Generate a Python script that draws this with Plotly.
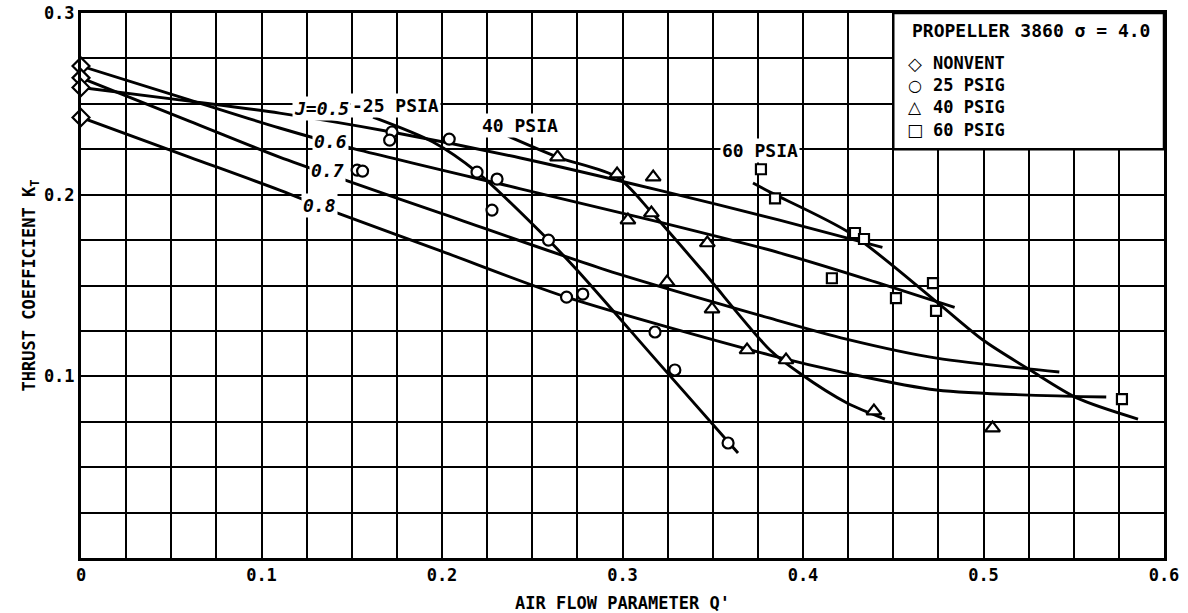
import plotly.graph_objects as go

# ---------------- data ----------------
nonvent_q = [0.0, 0.0, 0.0, 0.0]
nonvent_k = [0.2708, 0.2643, 0.2590, 0.2425]

psig25_q = [0.1723, 0.1710, 0.1530, 0.1560, 0.2040, 0.2194, 0.2305, 0.2277,
            0.2590, 0.2690, 0.2780, 0.3180, 0.3290, 0.3585]
psig25_k = [0.2345, 0.2300, 0.2135, 0.2130, 0.2306, 0.2124, 0.2086, 0.1915,
            0.1750, 0.1436, 0.1453, 0.1244, 0.1035, 0.0633]

psig40_q = [0.2640, 0.2970, 0.3170, 0.3160, 0.3030, 0.3470, 0.3247, 0.3496,
            0.3690, 0.3906, 0.4393, 0.5050]
psig40_k = [0.2207, 0.2113, 0.2097, 0.1899, 0.1860, 0.1734, 0.1519, 0.1370,
            0.1145, 0.1090, 0.0809, 0.0715]

psig60_q = [0.3767, 0.3845, 0.4288, 0.4338, 0.4160, 0.4720, 0.4515, 0.4737, 0.5767]
psig60_k = [0.2140, 0.1980, 0.1789, 0.1756, 0.1540, 0.1513, 0.1430, 0.1360, 0.0875]

# faired curves: constant advance ratio J
j05_q = [0.0, 0.06, 0.11, 0.172, 0.2435, 0.32, 0.387, 0.444]
j05_k = [0.259, 0.2515, 0.2449, 0.2345, 0.2202, 0.2025, 0.186, 0.171]

j06_q = [0.0, 0.06, 0.11, 0.15, 0.2435, 0.32, 0.387, 0.44, 0.484]
j06_k = [0.2708, 0.2522, 0.2367, 0.2256, 0.2032, 0.185, 0.168, 0.152, 0.138]

j07_q = [0.0, 0.06, 0.11, 0.146, 0.2, 0.291, 0.3817, 0.424, 0.474, 0.542]
j07_k = [0.2643, 0.2405, 0.2207, 0.2081, 0.1896, 0.1585, 0.132, 0.1205, 0.110, 0.1024]

j08_q = [0.0, 0.06, 0.11, 0.1407, 0.2, 0.269, 0.3817, 0.424, 0.474, 0.568]
j08_k = [0.2425, 0.2207, 0.2025, 0.1904, 0.1688, 0.1436, 0.1117, 0.1018, 0.0925, 0.0886]

# faired curves: constant tank pressure
psia25_q = [0.1618, 0.195, 0.2194, 0.259, 0.2748, 0.32, 0.364]
psia25_k = [0.2427, 0.229, 0.2124, 0.175, 0.1585, 0.1074, 0.0578]

psia40_q = [0.2366, 0.264, 0.297, 0.3163, 0.344, 0.3817, 0.398, 0.4244, 0.4454]
psia40_k = [0.2322, 0.2207, 0.2097, 0.190, 0.1585, 0.1145, 0.1018, 0.0853, 0.0765]

psia60_q = [0.3723, 0.3817, 0.426, 0.474, 0.4997, 0.5258, 0.552, 0.5856]
psia60_k = [0.2064, 0.2014, 0.1789, 0.141, 0.12, 0.1035, 0.088, 0.0765]

x_ticks = [0, 0.1, 0.2, 0.3, 0.4, 0.5, 0.6]
x_ticktext = ["0", "0.1", "0.2", "0.3", "0.4", "0.5", "0.6"]
y_ticks = [0.1, 0.2, 0.3]
y_ticktext = ["0.1", "0.2", "0.3"]

legend_names = ["NONVENT", "25 PSIG", "40 PSIG", "60 PSIG"]
legend_glyphs = ["◇", "○", "△", "□"]
legend_title = "PROPELLER 3860 σ = 4.0"

# ---------------- figure ----------------
FONT = "DejaVu Sans Mono"
INK = "black"

fig = go.Figure()

curves = [(j05_q, j05_k), (j06_q, j06_k), (j07_q, j07_k), (j08_q, j08_k),
          (psia25_q, psia25_k), (psia40_q, psia40_k), (psia60_q, psia60_k)]
for q, k in curves:
    fig.add_trace(go.Scatter(
        x=q, y=k, mode="lines",
        line=dict(color=INK, width=2.9, shape="spline", smoothing=0.8),
        showlegend=False, hoverinfo="skip"))

series = [
    (legend_names[0], nonvent_q, nonvent_k, "diamond", 13),
    (legend_names[1], psig25_q, psig25_k, "circle", 11),
    (legend_names[2], psig40_q, psig40_k, "triangle-up", 13),
    (legend_names[3], psig60_q, psig60_k, "square", 10),
]
for name, q, k, sym, size in series:
    fig.add_trace(go.Scatter(
        x=q, y=k, mode="markers", name=name, cliponaxis=False, showlegend=False,
        marker=dict(symbol=sym, size=size, color="white",
                    line=dict(color=INK, width=2.2))))

# key box (white panel covering the grid)
fig.add_shape(type="rect", xref="x", yref="y", x0=0.45, x1=0.6, y0=0.225, y1=0.3,
              fillcolor="white", line=dict(color=INK, width=2.5), layer="between")

TXT = dict(family=FONT, size=18, color=INK, weight="bold")

fig.add_annotation(xref="x", yref="y", x=0.4593, y=0.2906, xanchor="left", yanchor="middle",
                   text=legend_title, showarrow=False, font=TXT)

key_rows = [0.2724, 0.2603, 0.2482, 0.2356]
glyph_sizes = [18, 16, 17, 17]
for glyph, gsize, name, yk in zip(legend_glyphs, glyph_sizes, legend_names, key_rows):
    fig.add_annotation(xref="x", yref="y", x=0.4622, y=yk, text=glyph, showarrow=False,
                       xanchor="center", yanchor="middle",
                       font=dict(family="DejaVu Sans", size=gsize, color=INK, weight="bold"))
    fig.add_annotation(xref="x", yref="y", x=0.4710, y=yk, text=name, showarrow=False,
                       xanchor="left", yanchor="middle",
                       font=dict(family=FONT, size=17, color=INK, weight="bold"))

labels = [
    ("<i>J=0.5</i>", 0.1335, 0.2477),
    ("<i>0.6</i>", 0.1385, 0.2290),
    ("<i>0.7</i>", 0.1368, 0.2135),
    ("<i>0.8</i>", 0.1319, 0.1943),
    ("-25 PSIA", 0.1745, 0.2493),
    ("40 PSIA", 0.2432, 0.2383),
    ("60 PSIA", 0.3762, 0.2245),
]
for txt, x, y in labels:
    fig.add_annotation(xref="x", yref="y", x=x, y=y, text=txt, showarrow=False,
                       font=TXT, bgcolor="white", borderpad=1)

axis_common = dict(
    showgrid=True, gridcolor=INK, gridwidth=2,
    showline=True, linecolor=INK, linewidth=3, mirror=True,
    zeroline=False, ticks="", automargin=False,
    tickfont=dict(family=FONT, size=17, color=INK, weight="bold"),
)

fig.update_layout(
    width=1188, height=613,
    margin=dict(l=81, r=24, t=13, b=55),
    paper_bgcolor="white", plot_bgcolor="white",
    font=dict(family=FONT, color=INK),
    showlegend=False,
    xaxis=dict(range=[0, 0.6], tickmode="array", tickvals=x_ticks, ticktext=x_ticktext,
               minor=dict(tickmode="linear", tick0=0, dtick=0.025, showgrid=True,
                          gridcolor=INK, gridwidth=2),
               title=dict(text="AIR FLOW PARAMETER Q'",
                          font=dict(family=FONT, size=17, color=INK, weight="bold"),
                          standoff=14),
               **axis_common),
    yaxis=dict(range=[0, 0.3], tickmode="array", tickvals=y_ticks, ticktext=y_ticktext,
               minor=dict(tickmode="linear", tick0=0, dtick=0.025, showgrid=True,
                          gridcolor=INK, gridwidth=2),
               title=dict(text="THRUST COEFFICIENT K<sub>T</sub>",
                          font=dict(family=FONT, size=17, color=INK, weight="bold"),
                          standoff=4),
               **axis_common),
)

fig.write_html("out.html")
